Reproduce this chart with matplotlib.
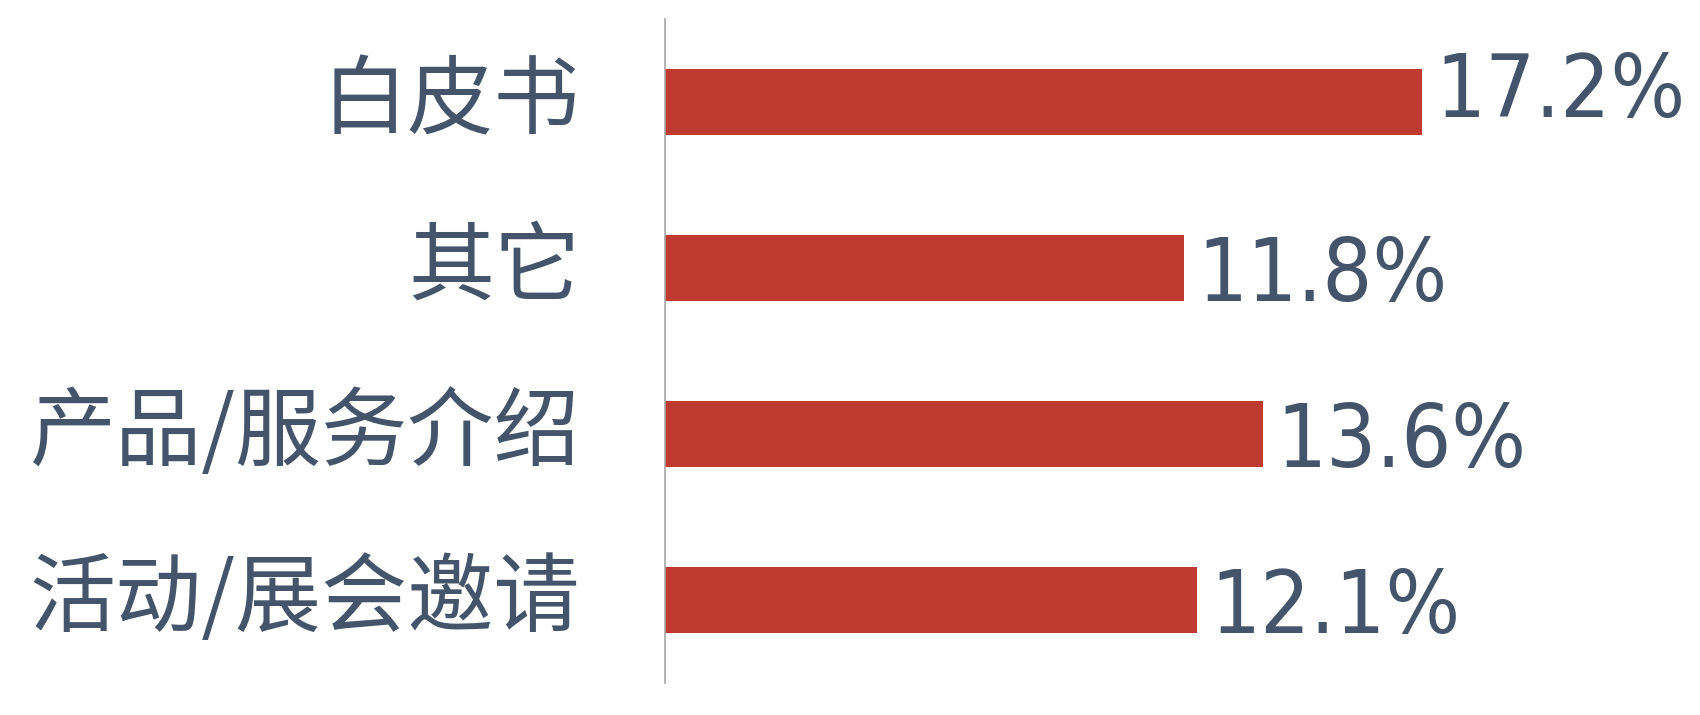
import matplotlib.pyplot as plt
import matplotlib.transforms as mtransforms

plt.rcParams['font.family'] = ['Noto Sans CJK SC', 'DejaVu Sans']

categories = ["白皮书", "其它", "产品/服务介绍", "活动/展会邀请"]
values = [17.2, 11.8, 13.6, 12.1]
value_labels = ["17.2%", "11.8%", "13.6%", "12.1%"]

bar_color = "#BF3A30"
text_color = "#44546A"

# the top value label sits a bit higher than the others in the original
label_baseline = [0.09, 0.2, 0.2, 0.2]

fig = plt.figure(figsize=(17, 7.15), dpi=100)
ax = fig.add_axes([665 / 1700, 32 / 715, 880 / 1700, 664 / 715])

pos = list(range(len(categories)))
ax.barh(pos, values, height=0.4, color=bar_color)
ax.set_ylim(len(categories) - 0.5, -0.5)
ax.set_xlim(0, 20)

for p, v, lab, dy in zip(pos, values, value_labels, label_baseline):
    ax.text(v + 0.3, p + dy, lab, va="baseline", ha="left", fontsize=63,
            color=text_color, family="DejaVu Sans", stretch="condensed")

ax.set_yticks(pos)
ax.set_yticklabels(categories, fontsize=62, color=text_color)
ax.tick_params(axis="y", length=0, pad=61)
ax.set_xticks([])
# nudge category labels up a little
shift = mtransforms.ScaledTranslation(0, 0.09, fig.dpi_scale_trans)
for t in ax.get_yticklabels():
    t.set_transform(t.get_transform() + shift)

for s in ["top", "right", "bottom"]:
    ax.spines[s].set_visible(False)
ax.spines["left"].set_color("#A6A6A6")
ax.spines["left"].set_linewidth(1.2)

fig.savefig("out.png", dpi=100)
